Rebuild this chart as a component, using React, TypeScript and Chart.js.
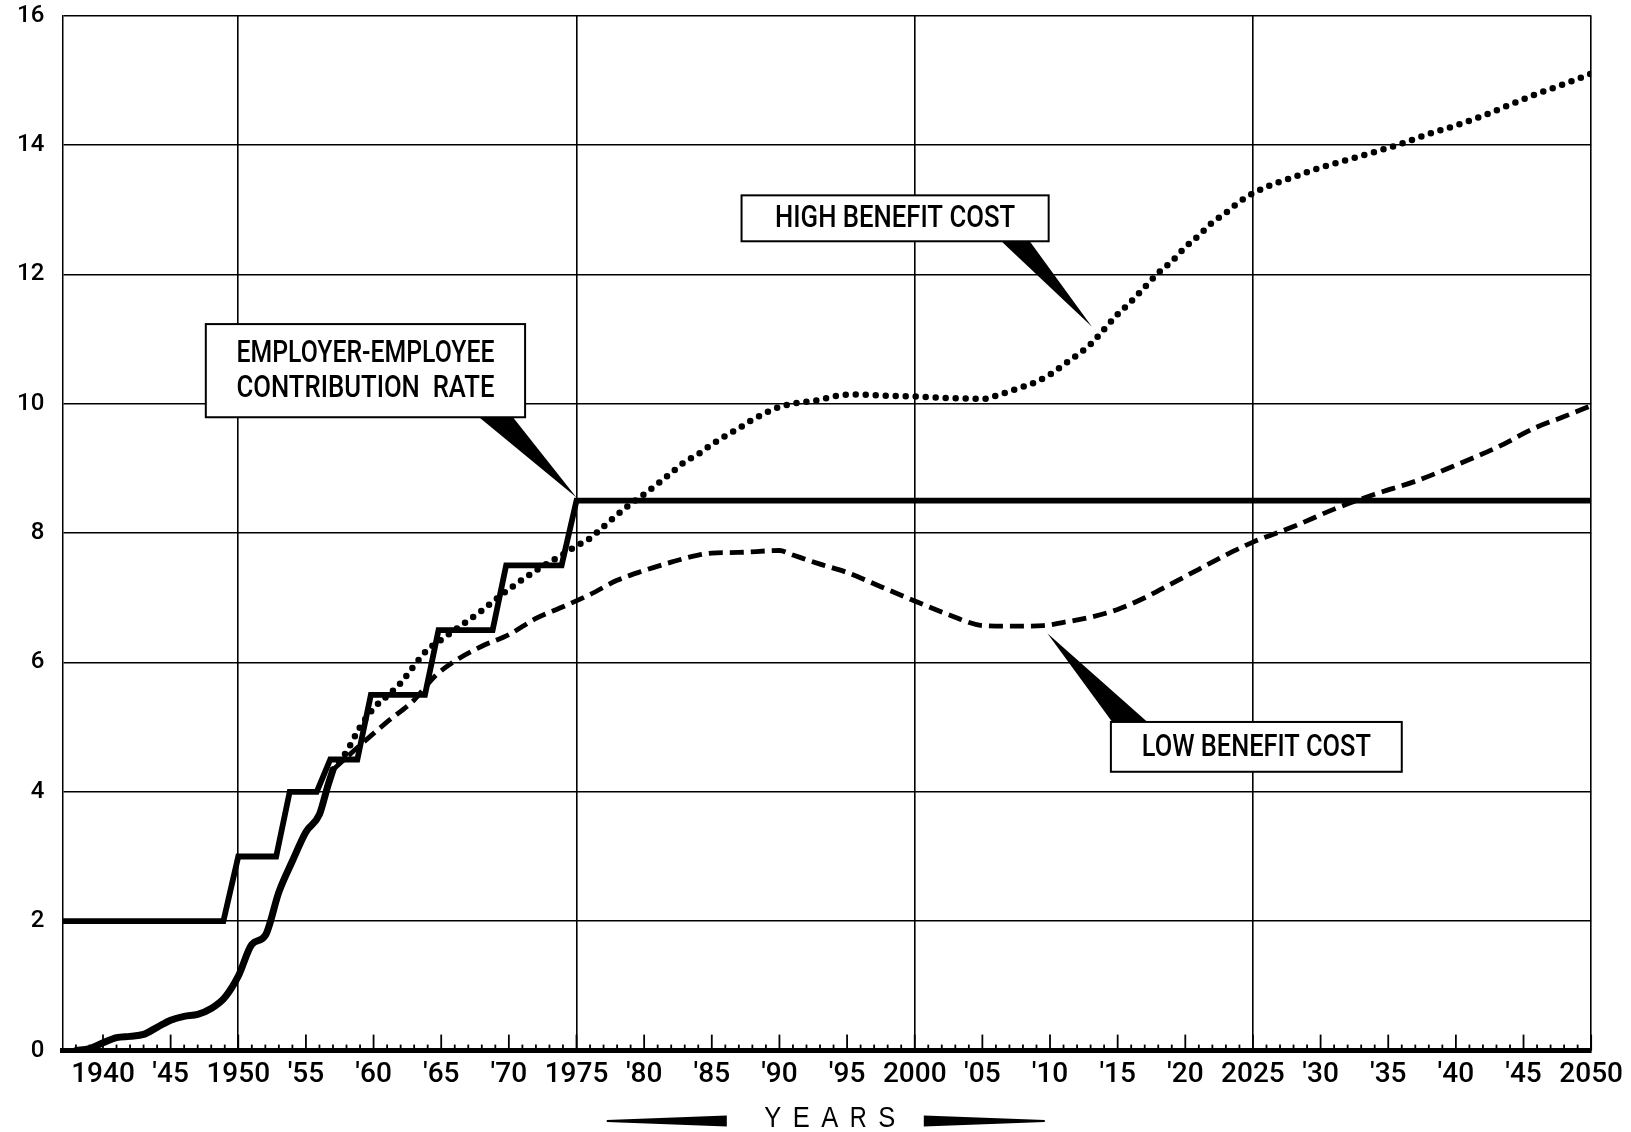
import React, { useEffect, useRef } from 'react';
import { Chart, registerables } from 'chart.js';

Chart.register(...registerables);

// ---------- data ----------
const xTickYears = [1940, 1945, 1950, 1955, 1960, 1965, 1970, 1975, 1980, 1985, 1990, 1995, 2000, 2005, 2010, 2015, 2020, 2025, 2030, 2035, 2040, 2045, 2050];
const xTickLabels = ['1940', "'45", '1950', "'55", "'60", "'65", "'70", '1975', "'80", "'85", "'90", "'95", '2000', "'05", "'10", "'15", "'20", '2025', "'30", "'35", "'40", "'45", '2050'];

const contribYears = [1937, 1948.9, 1950, 1952.8, 1953.8, 1955.8, 1956.8, 1958.8, 1959.8, 1963.8, 1964.8, 1968.8, 1969.8, 1973.9, 1975, 2050];
const contribRates = [2, 2, 3, 3, 4, 4, 4.5, 4.5, 5.5, 5.5, 6.5, 6.5, 7.5, 7.5, 8.5, 8.5];

const actualYears = [1938, 1939, 1940, 1941, 1942, 1943, 1944, 1945, 1946, 1947, 1948, 1949, 1950, 1951, 1952, 1953, 1954, 1955, 1956, 1956.6, 1957];
const actualCost = [0, 0.03, 0.12, 0.2, 0.22, 0.25, 0.36, 0.47, 0.53, 0.56, 0.65, 0.82, 1.15, 1.64, 1.78, 2.45, 2.93, 3.38, 3.65, 4.08, 4.34];

const highYears = [1957, 1958, 1959, 1960, 1961, 1962, 1963, 1964, 1965, 1966, 1967, 1968, 1969, 1970, 1971, 1972, 1973, 1974, 1975, 1976, 1977, 1978, 1979, 1980, 1981, 1982, 1983, 1984, 1985, 1986, 1987, 1988, 1989, 1990, 1991, 1992, 1993, 1994, 1995, 1996, 1997, 1998, 2000, 2002, 2004, 2005, 2006, 2007, 2008, 2009, 2010, 2011, 2012, 2013, 2014, 2015, 2016, 2017, 2018, 2019, 2020, 2021, 2022, 2023, 2024, 2025, 2026, 2027, 2028, 2029, 2030, 2032, 2034, 2036, 2038, 2040, 2042, 2044, 2046, 2048, 2050];
const highCost = [4.34, 4.62, 5.0, 5.29, 5.48, 5.68, 5.95, 6.2, 6.35, 6.5, 6.65, 6.8, 6.97, 7.13, 7.28, 7.42, 7.55, 7.67, 7.8, 7.92, 8.1, 8.28, 8.45, 8.6, 8.76, 8.93, 9.1, 9.22, 9.37, 9.5, 9.62, 9.75, 9.86, 9.95, 10.0, 10.03, 10.06, 10.11, 10.14, 10.14, 10.13, 10.12, 10.11, 10.09, 10.08, 10.07, 10.12, 10.19, 10.26, 10.34, 10.45, 10.6, 10.75, 10.92, 11.15, 11.38, 11.58, 11.8, 12.02, 12.2, 12.42, 12.6, 12.8, 12.95, 13.12, 13.25, 13.35, 13.43, 13.5, 13.58, 13.65, 13.77, 13.89, 14.02, 14.17, 14.3, 14.45, 14.62, 14.79, 14.94, 15.1];

const lowYears = [1957, 1959, 1961, 1963, 1964.5, 1966, 1968, 1970, 1972, 1974, 1976, 1978, 1980, 1982, 1984, 1985, 1987, 1990, 1991, 1993, 1995, 1997.5, 2000, 2002.5, 2005, 2007, 2009.5, 2011, 2013, 2015, 2017, 2019, 2021, 2023, 2025, 2028, 2031, 2034, 2037, 2040, 2043, 2046, 2048, 2050];
const lowCost = [4.34, 4.72, 5.08, 5.42, 5.78, 6.02, 6.25, 6.43, 6.68, 6.86, 7.05, 7.27, 7.42, 7.55, 7.66, 7.69, 7.7, 7.73, 7.66, 7.52, 7.39, 7.17, 6.95, 6.74, 6.57, 6.56, 6.57, 6.62, 6.7, 6.82, 7.0, 7.22, 7.44, 7.66, 7.86, 8.1, 8.37, 8.6, 8.8, 9.05, 9.32, 9.64, 9.8, 9.97];

const calloutTexts = [
  ['EMPLOYER-EMPLOYEE', 'CONTRIBUTION  RATE'],
  ['HIGH BENEFIT COST'],
  ['LOW BENEFIT COST'],
];

// ---------- layout of callouts (data units) ----------
const calloutLayout = [
  { x0: 1947.6, x1: 1971.2, yTop: 11.23, yBot: 9.79, textW: 258, lineGap: 34.5, baseX0: 1967.8, baseX1: 1970.3, side: 'bottom', tipX: 1975, tipY: 8.55 },
  { x0: 1987.2, x1: 2009.9, yTop: 13.22, yBot: 12.51, textW: 240, lineGap: 0, baseX0: 2006.4, baseX1: 2008.5, side: 'bottom', tipX: 2013.1, tipY: 11.19 },
  { x0: 2014.5, x1: 2036.0, yTop: 5.08, yBot: 4.31, textW: 229, lineGap: 0, baseX0: 2014.6, baseX1: 2017.2, side: 'top', tipX: 2009.8, tipY: 6.45 },
];

const FONT = '"Liberation Sans", Arial, sans-serif';
const TICK_FONT = 'Roboto, "Liberation Sans", Arial, sans-serif';

const toXY = (xs: number[], ys: number[]) => xs.map((x, i) => ({ x, y: ys[i] }));

const inwardTicks = {
  id: 'inwardTicks',
  beforeDatasetsDraw(chart: any) {
    const x = chart.scales.x;
    const area = chart.chartArea;
    const ctx = chart.ctx;
    ctx.save();
    ctx.strokeStyle = '#000';
    ctx.lineWidth = 1.8;
    x.ticks.forEach((t: any) => {
      if (t.value === x.min) return;
      const px = x.getPixelForValue(t.value);
      const len = t.value % 5 === 0 ? 16 : 6;
      ctx.beginPath();
      ctx.moveTo(px, area.bottom);
      ctx.lineTo(px, area.bottom - len);
      ctx.stroke();
    });
    ctx.restore();
  },
};

const callouts = {
  id: 'callouts',
  afterDatasetsDraw(chart: any) {
    const xs = chart.scales.x;
    const ys = chart.scales.y;
    const ctx = chart.ctx;
    ctx.save();
    calloutLayout.forEach((c, i) => {
      const l = xs.getPixelForValue(c.x0);
      const r = xs.getPixelForValue(c.x1);
      const t = ys.getPixelForValue(c.yTop);
      const b = ys.getPixelForValue(c.yBot);
      const baseY = c.side === 'bottom' ? b : t;
      ctx.fillStyle = '#000';
      ctx.beginPath();
      ctx.moveTo(xs.getPixelForValue(c.baseX0), baseY);
      ctx.lineTo(xs.getPixelForValue(c.baseX1), baseY);
      ctx.lineTo(xs.getPixelForValue(c.tipX), ys.getPixelForValue(c.tipY));
      ctx.closePath();
      ctx.fill();
      ctx.fillStyle = '#fff';
      ctx.fillRect(l, t, r - l, b - t);
      ctx.strokeStyle = '#000';
      ctx.lineWidth = 2;
      ctx.strokeRect(l, t, r - l, b - t);
      ctx.fillStyle = '#000';
      ctx.font = `500 31px ${TICK_FONT}`;
      ctx.textAlign = 'center';
      ctx.textBaseline = 'middle';
      const lines = calloutTexts[i];
      const cx = (l + r) / 2;
      const cy = (t + b) / 2 + 1;
      lines.forEach((txt, k) => {
        const off = (k - (lines.length - 1) / 2) * c.lineGap;
        ctx.fillText(txt, cx, cy + off, c.textW);
      });
    });
    ctx.restore();
  },
};

const yearsTitle = {
  id: 'yearsTitle',
  afterDraw(chart: any) {
    const ctx = chart.ctx;
    const area = chart.chartArea;
    const cx = (area.left + area.right) / 2 + 3;
    const cy = 1119;
    ctx.save();
    ctx.fillStyle = '#000';
    ctx.font = `30px ${FONT}`;
    ctx.textAlign = 'center';
    ctx.textBaseline = 'middle';
    const letters = ['Y', 'E', 'A', 'R', 'S'];
    letters.forEach((ch, i) => {
      ctx.fillText(ch, cx + (i - 2) * 28.5, cy, 17);
    });
    const wy = cy + 2;
    ctx.beginPath();
    ctx.moveTo(cx - 223, wy - 1);
    ctx.lineTo(cx - 103, wy - 5.5);
    ctx.lineTo(cx - 103, wy + 5.5);
    ctx.lineTo(cx - 223, wy + 1);
    ctx.closePath();
    ctx.fill();
    ctx.beginPath();
    ctx.moveTo(cx + 94, wy - 5.5);
    ctx.lineTo(cx + 215, wy - 1);
    ctx.lineTo(cx + 215, wy + 1);
    ctx.lineTo(cx + 94, wy + 5.5);
    ctx.closePath();
    ctx.fill();
    ctx.restore();
  },
};

export default function App() {
  const ref = useRef<HTMLCanvasElement>(null);
  useEffect(() => {
    document.body.style.margin = '0';
    document.body.style.background = '#fff';
    Chart.defaults.font.family = FONT;
    Chart.defaults.color = '#000';
    const chart = new Chart(ref.current as HTMLCanvasElement, {
      type: 'line',
      data: {
        datasets: [
          {
            label: 'Employer-employee contribution rate',
            data: toXY(contribYears, contribRates),
            borderColor: '#000',
            borderWidth: 5.8,
            pointRadius: 0,
            tension: 0,
            borderJoinStyle: 'miter',
          },
          {
            label: 'Actual cost',
            data: toXY(actualYears, actualCost),
            borderColor: '#000',
            borderWidth: 7,
            pointRadius: 0,
            cubicInterpolationMode: 'monotone',
            borderCapStyle: 'round',
          },
          {
            label: 'High benefit cost',
            data: toXY(highYears, highCost),
            borderColor: '#000',
            borderWidth: 6.5,
            borderDash: [0, 10],
            borderCapStyle: 'round',
            pointRadius: 0,
            cubicInterpolationMode: 'monotone',
          },
          {
            label: 'Low benefit cost',
            data: toXY(lowYears, lowCost),
            borderColor: '#000',
            borderWidth: 4.8,
            borderDash: [14, 7],
            borderCapStyle: 'butt',
            pointRadius: 0,
            cubicInterpolationMode: 'monotone',
          },
        ],
      } as any,
      options: {
        responsive: false,
        animation: false,
        devicePixelRatio: 1,
        layout: { padding: { top: 15.5, right: 39.5, left: 0, bottom: 0 } },
        plugins: { legend: { display: false }, tooltip: { enabled: false } },
        scales: {
          x: {
            type: 'linear',
            min: 1937,
            max: 2050,
            afterFit: (s: any) => { s.height = 81.4; },
            ticks: {
              stepSize: 1,
              autoSkip: false,
              maxRotation: 0,
              minRotation: 0,
              padding: 8,
              font: { size: 28, family: TICK_FONT, weight: '500' },
              color: '#000',
              callback: (v: any) => {
                const i = xTickYears.indexOf(Number(v));
                return i >= 0 ? xTickLabels[i] : '';
              },
            },
            grid: {
              drawTicks: false,
              lineWidth: 1.6,
              color: (c: any) => (c.tick && c.tick.value % 25 === 0 && c.tick.value !== 1937 ? '#000' : 'rgba(0,0,0,0)'),
            },
            border: { display: true, color: '#000', width: 5 },
          },
          y: {
            type: 'linear',
            min: 0,
            max: 16,
            afterFit: (s: any) => { s.width = 62.4; },
            ticks: {
              stepSize: 2,
              padding: 0,
              font: { size: 24, family: TICK_FONT, weight: '500' },
              color: '#000',
            },
            grid: { drawTicks: true, tickLength: 18, tickColor: 'rgba(0,0,0,0)', lineWidth: 1.5, color: '#000' },
            border: { display: true, color: '#000', width: 1.5 },
          },
        },
      } as any,
      plugins: [inwardTicks, callouts, yearsTitle],
    });
    return () => chart.destroy();
  }, []);
  return (
    <div style={{ width: 1631, height: 1132, background: '#fff' }}>
      <canvas ref={ref} width={1631} height={1132} style={{ display: 'block', width: 1631, height: 1132 }} />
    </div>
  );
}
